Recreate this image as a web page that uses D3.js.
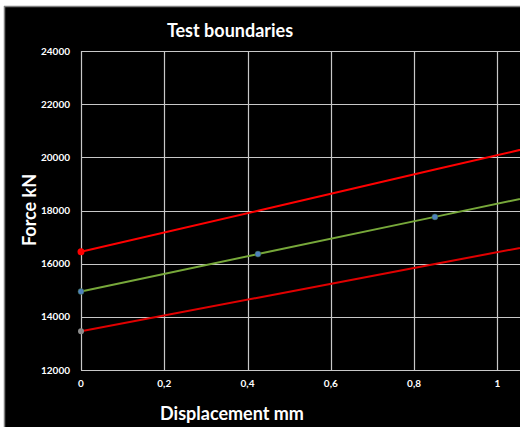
<!DOCTYPE html>
<html><head><meta charset="utf-8">
<script src="https://cdn.jsdelivr.net/npm/d3@7"></script>
<style>html,body{margin:0;padding:0;background:#fff;overflow:hidden}</style>
</head><body>
<script>
const title = "Test boundaries";
const xTitle = "Displacement mm";
const yTitle = "Force kN";
const xTicks = [0, 0.2, 0.4, 0.6, 0.8, 1];
const xTickLabels = ["0", "0,2", "0,4", "0,6", "0,8", "1"];
const yTicks = [12000, 14000, 16000, 18000, 20000, 22000, 24000];
const displacement = [0, 0.425, 0.85, 1.275];
const measured = [14950, 16360, 17760, 19160];
const upperBound = [16445, 17990, 19540, 21080];
const lowerBound = [13455, 14720, 15990, 17240];

const W = 520, H = 427;
const svg = d3.select("body").append("svg").attr("width", W).attr("height", H);
svg.append("rect").attr("x", 4).attr("y", 6).attr("width", W).attr("height", H).attr("fill", "#000");
svg.append("line").attr("x1", 4).attr("x2", W).attr("y1", 6.5).attr("y2", 6.5).attr("stroke", "#7f7f7f").attr("stroke-width", 1.5);
svg.append("line").attr("x1", 4.5).attr("x2", 4.5).attr("y1", 6).attr("y2", H).attr("stroke", "#7f7f7f").attr("stroke-width", 1.5);

const x = d3.scaleLinear().domain([0, 1.1]).range([81, 539]);
const y = d3.scaleLinear().domain([12000, 24000]).range([370, 51]);
const font = "Lato, 'Open Sans', sans-serif";

svg.append("defs").append("clipPath").attr("id", "clip")
  .append("rect").attr("x", 0).attr("y", 0).attr("width", W).attr("height", H);
const g = svg.append("g").attr("clip-path", "url(#clip)");

// gridlines
g.selectAll(".hg").data(yTicks).join("line")
  .attr("x1", x(0)).attr("x2", x(1.1)).attr("y1", d => Math.round(y(d)) + 0.5).attr("y2", d => Math.round(y(d)) + 0.5)
  .attr("stroke", "#c8c8c8").attr("stroke-width", 1.2);
g.selectAll(".vg").data(xTicks).join("line")
  .attr("x1", d => Math.round(x(d)) + 0.5).attr("x2", d => Math.round(x(d)) + 0.5).attr("y1", y(24000)).attr("y2", y(12000))
  .attr("stroke", "#c8c8c8").attr("stroke-width", 1.2);

// axis labels
svg.selectAll(".yl").data(yTicks).join("text")
  .attr("x", 70).attr("y", d => y(d)).attr("dy", "0.35em").attr("text-anchor", "end")
  .attr("fill", "#fff").attr("font-family", font).attr("font-weight", "bold").attr("font-size", 10)
  .text(d => d);
svg.selectAll(".xl").data(xTicks).join("text")
  .attr("x", d => x(d)).attr("y", 387).attr("text-anchor", "middle")
  .attr("fill", "#fff").attr("font-family", font).attr("font-weight", "bold").attr("font-size", 10)
  .text((d, i) => xTickLabels[i]);

const line = d3.line().x((d, i) => x(displacement[i])).y(d => y(d));
g.append("path").datum(upperBound).attr("d", line).attr("fill", "none").attr("stroke", "#ff0000").attr("stroke-width", 2);
g.append("path").datum(lowerBound).attr("d", line).attr("fill", "none").attr("stroke", "#e00000").attr("stroke-width", 2);
g.append("path").datum(measured).attr("d", line).attr("fill", "none").attr("stroke", "#77a83a").attr("stroke-width", 2);

g.append("circle").attr("cx", x(displacement[0])).attr("cy", y(upperBound[0])).attr("r", 3.5).attr("fill", "#ff0000");
g.append("circle").attr("cx", x(displacement[0])).attr("cy", y(lowerBound[0])).attr("r", 3).attr("fill", "#8c8c8c");
g.selectAll(".mp").data(measured).join("circle")
  .attr("cx", (d, i) => x(displacement[i])).attr("cy", d => y(d)).attr("r", 3)
  .attr("fill", "#4f81bd").attr("stroke", "#3a6a3a").attr("stroke-width", 0.5);

svg.append("text").attr("x", 230).attr("y", 37).attr("text-anchor", "middle")
  .attr("fill", "#fff").attr("font-family", font).attr("font-weight", "bold").attr("font-size", 18).text(title);
svg.append("text").attr("x", 232).attr("y", 420).attr("text-anchor", "middle")
  .attr("fill", "#fff").attr("font-family", font).attr("font-weight", "bold").attr("font-size", 18).text(xTitle);
svg.append("text").attr("transform", "translate(36,210) rotate(-90)").attr("text-anchor", "middle")
  .attr("fill", "#fff").attr("font-family", font).attr("font-weight", "bold").attr("font-size", 18).text(yTitle);
</script>
</body></html>
